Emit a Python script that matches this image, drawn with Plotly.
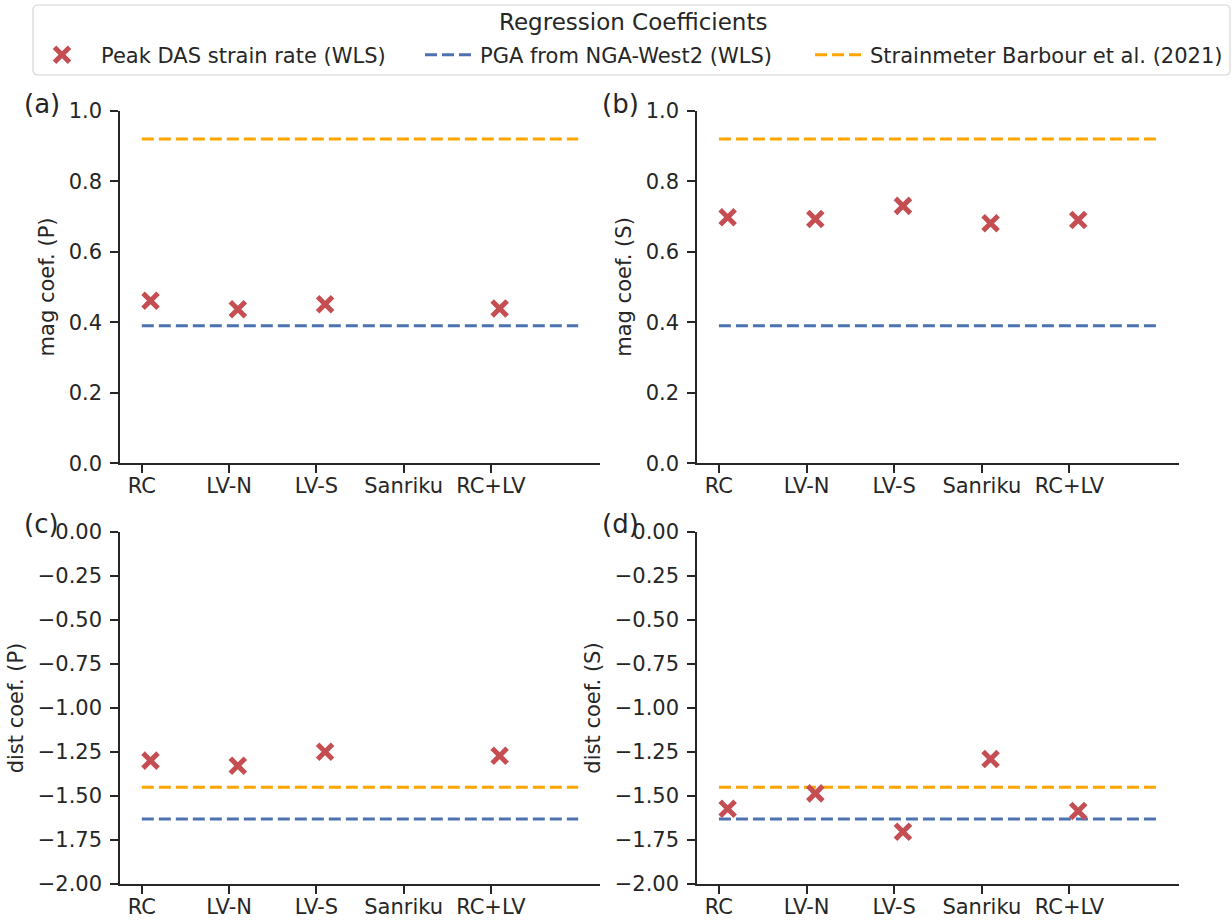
import plotly.graph_objects as go

# ---------------- data ----------------
categories = ["RC", "LV-N", "LV-S", "Sanriku", "RC+LV"]

mag_P = [0.461, 0.437, 0.451, None, 0.439]
mag_S = [0.698, 0.693, 0.730, 0.681, 0.690]
dist_P = [-1.299, -1.328, -1.248, None, -1.271]
dist_S = [-1.572, -1.485, -1.703, -1.290, -1.585]

pga_mag = 0.39
pga_dist = -1.63
strainmeter_mag = 0.92
strainmeter_dist = -1.45

mag_ticks = [0.0, 0.2, 0.4, 0.6, 0.8, 1.0]
mag_ticktext = ["0.0", "0.2", "0.4", "0.6", "0.8", "1.0"]
dist_ticks = [0.0, -0.25, -0.5, -0.75, -1.0, -1.25, -1.5, -1.75, -2.0]
dist_ticktext = ["0.00", "\u22120.25", "\u22120.50", "\u22120.75", "\u22121.00",
                 "\u22121.25", "\u22121.50", "\u22121.75", "\u22122.00"]

panel_labels = ["(a)", "(b)", "(c)", "(d)"]
y_titles = ["mag coef. (P)", "mag coef. (S)", "dist coef. (P)", "dist coef. (S)"]
legend_title = "Regression Coefficients"
name_das = "Peak DAS strain rate (WLS)"
name_pga = "PGA from NGA-West2 (WLS)"
name_strain = "Strainmeter Barbour et al. (2021)"

# ---------------- style ----------------
FONT = "DejaVu Sans"
TXT = "#262626"
RED = "#C44E52"
BLUE = "#4C72B0"
ORANGE = "#FFA500"
W, H = 1232, 922
FS = 21
marker_offset = 0.1

x_idx = list(range(len(categories)))
x_mark = [i + marker_offset for i in x_idx]
x_line = [0, len(categories)]

# pixel geometry of panels -> paper domains
col_px = [(120, 600), (697, 1179)]
row_px = [(110.7, 463.2), (532, 884)]

def xd(c):
    return [col_px[c][0] / W, col_px[c][1] / W]

def yd(r):
    return [1 - row_px[r][1] / H, 1 - row_px[r][0] / H]

fig = go.Figure()

panels = [
    (0, 0, mag_P, pga_mag, strainmeter_mag, "mag"),
    (0, 1, mag_S, pga_mag, strainmeter_mag, "mag"),
    (1, 0, dist_P, pga_dist, strainmeter_dist, "dist"),
    (1, 1, dist_S, pga_dist, strainmeter_dist, "dist"),
]

layout = {}
for k, (r, c, vals, pga, strain, kind) in enumerate(panels):
    n = k + 1
    xa = "x" if n == 1 else f"x{n}"
    ya = "y" if n == 1 else f"y{n}"
    first = (k == 0)
    fig.add_trace(go.Scatter(
        x=x_line, y=[pga, pga], mode="lines", xaxis=xa, yaxis=ya,
        line=dict(color=BLUE, width=3, dash="12px,5px"),
        name=name_pga, showlegend=first, legend="legend2"))
    fig.add_trace(go.Scatter(
        x=x_line, y=[strain, strain], mode="lines", xaxis=xa, yaxis=ya,
        line=dict(color=ORANGE, width=3, dash="12px,5px"),
        name=name_strain, showlegend=first, legend="legend3"))
    fig.add_trace(go.Scatter(
        x=x_mark, y=vals, mode="markers", xaxis=xa, yaxis=ya,
        marker=dict(symbol="x-thin", size=15, color=RED,
                    line=dict(color=RED, width=5)),
        name=name_das, showlegend=first, legend="legend"))

    axis_common = dict(showline=True, linecolor=TXT, linewidth=1.5,
                       ticks="outside", ticklen=8, tickwidth=1.5, tickcolor=TXT,
                       showgrid=False, zeroline=False, automargin=False,
                       tickfont=dict(family=FONT, size=FS, color=TXT))
    layout["xaxis" if n == 1 else f"xaxis{n}"] = dict(
        domain=xd(c), anchor=ya, range=[-0.25, len(categories) + 0.25],
        tickvals=x_idx, ticktext=categories, ticklabelstandoff=-5, **axis_common)
    if kind == "mag":
        yr, tv, tt = [mag_ticks[0], mag_ticks[-1]], mag_ticks, mag_ticktext
    else:
        yr, tv, tt = [dist_ticks[-1], dist_ticks[0]], dist_ticks, dist_ticktext
    layout["yaxis" if n == 1 else f"yaxis{n}"] = dict(
        domain=yd(r), anchor=xa, range=yr, tickvals=tv, ticktext=tt,
        ticklabelstandoff=4,
        title=dict(text=y_titles[k], font=dict(family=FONT, size=FS, color=TXT),
                   standoff=8),
        **axis_common)

annotations = []
label_pos = [(22, 104), (600, 104), (22, 524), (600, 524)]
for lab, (px, py) in zip(panel_labels, label_pos):
    annotations.append(dict(text=lab, x=px / W, y=1 - py / H, xref="paper", yref="paper",
                            xanchor="left", yanchor="middle", showarrow=False,
                            font=dict(family=FONT, size=26, color=TXT)))
# legend title
annotations.append(dict(text=legend_title, x=633 / W, y=1 - 22 / H, xref="paper",
                        yref="paper", xanchor="center", yanchor="middle", showarrow=False,
                        font=dict(family=FONT, size=23, color=TXT)))

# legend frame (rounded rectangle) in pixel -> paper coords
bx0, bx1, by0, by1, rad = 33, 1230, 5, 75, 5
def P(px, py):
    return f"{px / W:.5f},{1 - py / H:.5f}"
frame_path = (f"M{P(bx0 + rad, by0)} L{P(bx1 - rad, by0)} Q{P(bx1, by0)} {P(bx1, by0 + rad)} "
              f"L{P(bx1, by1 - rad)} Q{P(bx1, by1)} {P(bx1 - rad, by1)} "
              f"L{P(bx0 + rad, by1)} Q{P(bx0, by1)} {P(bx0, by1 - rad)} "
              f"L{P(bx0, by0 + rad)} Q{P(bx0, by0)} {P(bx0 + rad, by0)} Z")
shapes = [dict(type="path", path=frame_path, xref="paper", yref="paper",
               line=dict(color="#d6d6d6", width=1.2), fillcolor="rgba(255,255,255,0.8)",
               layer="below")]

leg_common = dict(orientation="h", yanchor="middle", y=1 - 55 / H, xanchor="left",
                  bgcolor="rgba(0,0,0,0)", borderwidth=0,
                  font=dict(family=FONT, size=FS, color=TXT))

fig.update_layout(
    **layout,
    width=W, height=H,
    margin=dict(l=0, r=0, t=0, b=0, autoexpand=False),
    paper_bgcolor="white", plot_bgcolor="white",
    font=dict(family=FONT, size=FS, color=TXT),
    annotations=annotations,
    shapes=shapes,
    legend=dict(x=23 / W, itemwidth=68, **leg_common),
    legend2=dict(x=420 / W, itemwidth=50, **leg_common),
    legend3=dict(x=810 / W, itemwidth=50, **leg_common),
)

fig.write_html("out.html", config={"displayModeBar": False},
               post_script="document.body.style.margin='0';document.body.style.overflow='hidden';")
